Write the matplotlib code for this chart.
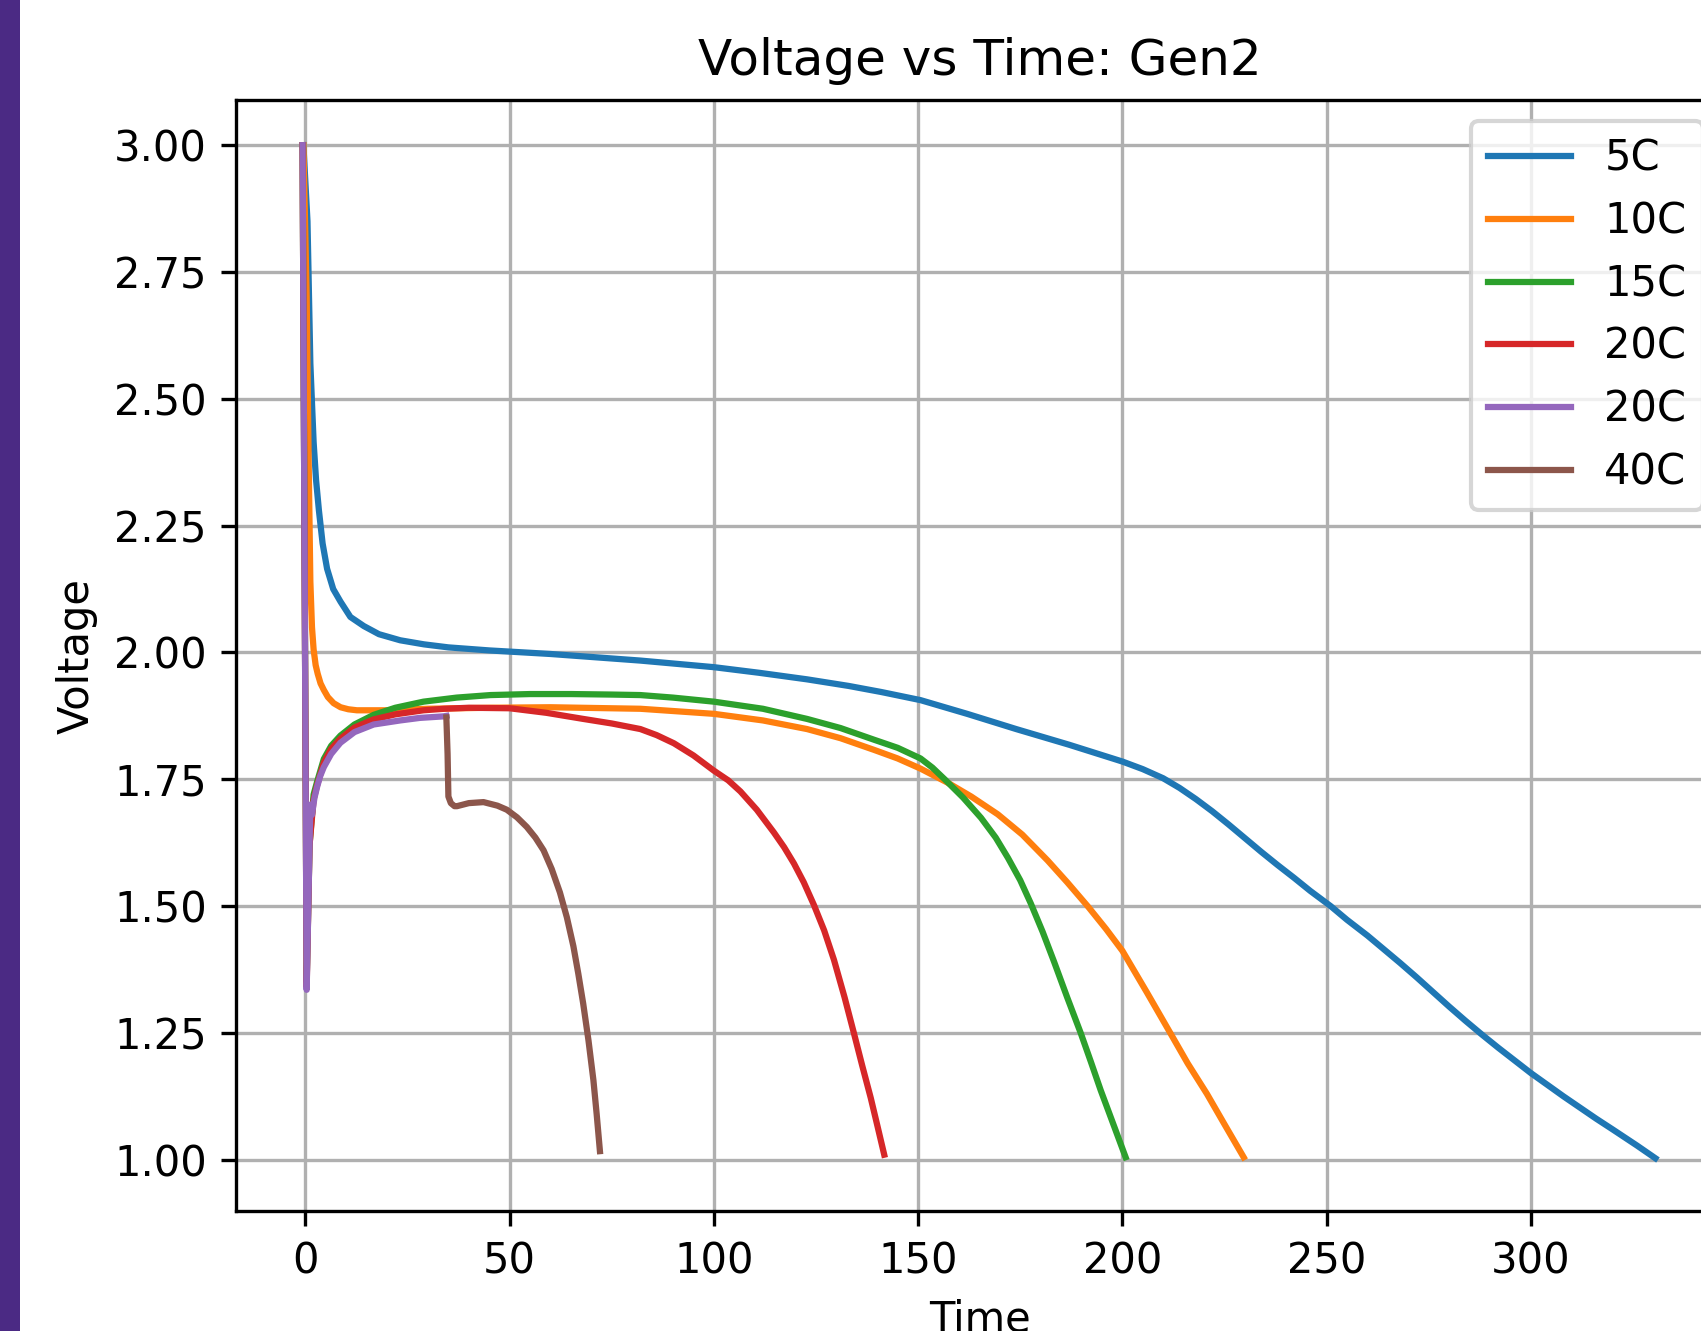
import matplotlib
matplotlib.use("Agg")
import matplotlib.pyplot as plt
from matplotlib.patches import Rectangle

# ---- data ----
labels = ["5C", "10C", "15C", "20C", "20C", "40C"]

t_5c = [-0.5, 0.5, 1.2, 2.0, 2.6, 3.3, 4.2, 5.3, 6.8, 8.6, 11, 14.3, 18, 23.2,
        29, 35, 45, 60, 82, 100, 111, 122.8, 133, 141, 150.6, 162, 174, 187,
        200, 205, 210, 214, 218, 222, 226, 230, 234, 238, 242, 246, 251, 255,
        260, 264, 268, 272, 276, 280, 284, 288, 292, 296, 300, 304, 308, 312,
        316, 320, 326, 330.5]
v_5c = [3.0, 2.85, 2.57, 2.415, 2.34, 2.28, 2.215, 2.165, 2.125, 2.10, 2.07,
        2.052, 2.036, 2.024, 2.016, 2.010, 2.004, 1.997, 1.984, 1.971, 1.960,
        1.947, 1.934, 1.922, 1.906, 1.879, 1.849, 1.818, 1.785, 1.770, 1.752,
        1.733, 1.711, 1.687, 1.661, 1.634, 1.607, 1.581, 1.556, 1.530, 1.50,
        1.473, 1.442, 1.415, 1.388, 1.360, 1.331, 1.302, 1.274, 1.247, 1.221,
        1.196, 1.171, 1.148, 1.125, 1.103, 1.081, 1.06, 1.028, 1.003]

t_10c = [-0.5, 0.3, 0.8, 1.2, 1.6, 2.0, 2.5, 3.0, 3.7, 4.5, 5.5, 6.9, 8.6, 10.5,
         12.6, 20, 30, 45, 60, 82, 100, 112, 122.8, 131, 139.2, 145, 150.6,
         157.3, 163, 169.5, 175.5, 181.7, 186.5, 191.5, 196, 200, 206, 211.8,
         216, 220.7, 225, 229.7]
v_10c = [3.0, 2.7, 2.37, 2.14, 2.05, 2.006, 1.975, 1.958, 1.939, 1.926, 1.912,
         1.900, 1.892, 1.888, 1.886, 1.886, 1.889, 1.891, 1.892, 1.889, 1.879,
         1.866, 1.849, 1.831, 1.808, 1.791, 1.771, 1.743, 1.716, 1.681, 1.641,
         1.590, 1.547, 1.50, 1.455, 1.412, 1.33, 1.249, 1.19, 1.13, 1.07, 1.005]

t_15c = [-0.7, 0.3, 1.0, 2.0, 2.85, 4.5, 6.3, 8.56, 12, 16.7, 22, 28.9, 37,
         45.3, 55, 65, 75, 82, 90, 100, 112, 122.8, 131, 139.2, 145, 150.6,
         153.5, 156.5, 161, 165.4, 169, 172, 175, 177.6, 180.5, 183.3, 186.5,
         189.8, 192.3, 194.7, 197.8, 200.8]
v_15c = [3.0, 1.35, 1.62, 1.72, 1.745, 1.79, 1.816, 1.836, 1.858, 1.877, 1.891,
         1.903, 1.911, 1.916, 1.918, 1.918, 1.917, 1.916, 1.911, 1.903, 1.889,
         1.869, 1.851, 1.828, 1.812, 1.791, 1.773, 1.75, 1.714, 1.674, 1.635,
         1.595, 1.551, 1.505, 1.449, 1.39, 1.32, 1.25, 1.193, 1.137, 1.07, 1.005]

t_20c = [-0.7, 0.3, 1.0, 2.0, 2.85, 4.5, 6.3, 8.56, 12, 16.7, 22, 28.9, 34, 40,
         50, 59, 68, 75, 82, 86, 90.2, 95, 100, 103.5, 106.5, 110.5, 114.7,
         117.2, 119.6, 122, 124.5, 127, 129.4, 132, 134.3, 136.3, 138.4, 140,
         141.7]
v_20c = [3.0, 1.34, 1.62, 1.71, 1.738, 1.783, 1.81, 1.83, 1.852, 1.868, 1.878,
         1.886, 1.889, 1.891, 1.890, 1.881, 1.869, 1.860, 1.849, 1.837, 1.821,
         1.797, 1.767, 1.748, 1.726, 1.69, 1.645, 1.616, 1.584, 1.547, 1.502,
         1.452, 1.394, 1.32, 1.249, 1.186, 1.122, 1.068, 1.01]

t_20c_b = [-0.7, 0.3, 1.2, 1.6, 2.2, 2.85, 3.6, 4.5, 6.3, 8.56, 12, 16.7, 23.2,
           28, 33.8, 34.5]
v_20c_b = [3.0, 1.335, 1.70, 1.68, 1.713, 1.735, 1.756, 1.774, 1.80, 1.822,
           1.843, 1.858, 1.866, 1.871, 1.874, 1.875]

t_40c = [34.5, 34.8, 35.0, 35.6, 36.5, 37.1, 40, 43.6, 47, 49.3, 51.8, 54.2,
         56.3, 58.3, 60.3, 62.3, 64, 65.6, 66.8, 68.0, 69.3, 70.5, 71.3, 72.1]
v_40c = [1.872, 1.80, 1.716, 1.703, 1.697, 1.697, 1.703, 1.705, 1.698, 1.69,
         1.675, 1.656, 1.635, 1.61, 1.573, 1.527, 1.478, 1.421, 1.367, 1.308,
         1.235, 1.157, 1.09, 1.017]

series = [(t_5c, v_5c), (t_10c, v_10c), (t_15c, v_15c), (t_20c, v_20c),
          (t_20c_b, v_20c_b), (t_40c, v_40c)]

# ---- figure ----
W, H, DPI = 1702, 1331, 300
fig = plt.figure(figsize=(W / DPI, H / DPI), dpi=DPI)
fig.patch.set_facecolor("white")

ax_left, ax_right_px, ax_top, ax_bottom = 236, 236 + 1488, 100, 1211
ax = fig.add_axes([ax_left / W, (H - ax_bottom) / H,
                   (ax_right_px - ax_left) / W, (ax_bottom - ax_top) / H])

for (t, v), lab in zip(series, labels):
    ax.plot(t, v, label=lab)

ax.set_xlim(-17.0, 347.3)
ax.set_ylim(0.899, 3.089)
ax.set_yticks([1.0, 1.25, 1.5, 1.75, 2.0, 2.25, 2.5, 2.75, 3.0])
ax.set_xticks([0, 50, 100, 150, 200, 250, 300])
ax.grid(True)
ax.set_title("Voltage vs Time: Gen2")
ax.set_xlabel("Time")
ax.set_ylabel("Voltage")
ax.legend(loc="upper right")

# purple strip at the left edge of the screenshot
fig.patches.append(Rectangle((0, 0), 20 / W, 1, transform=fig.transFigure,
                             facecolor="#4b2a84", edgecolor="none", zorder=10))

fig.savefig("out.png", dpi=DPI)
